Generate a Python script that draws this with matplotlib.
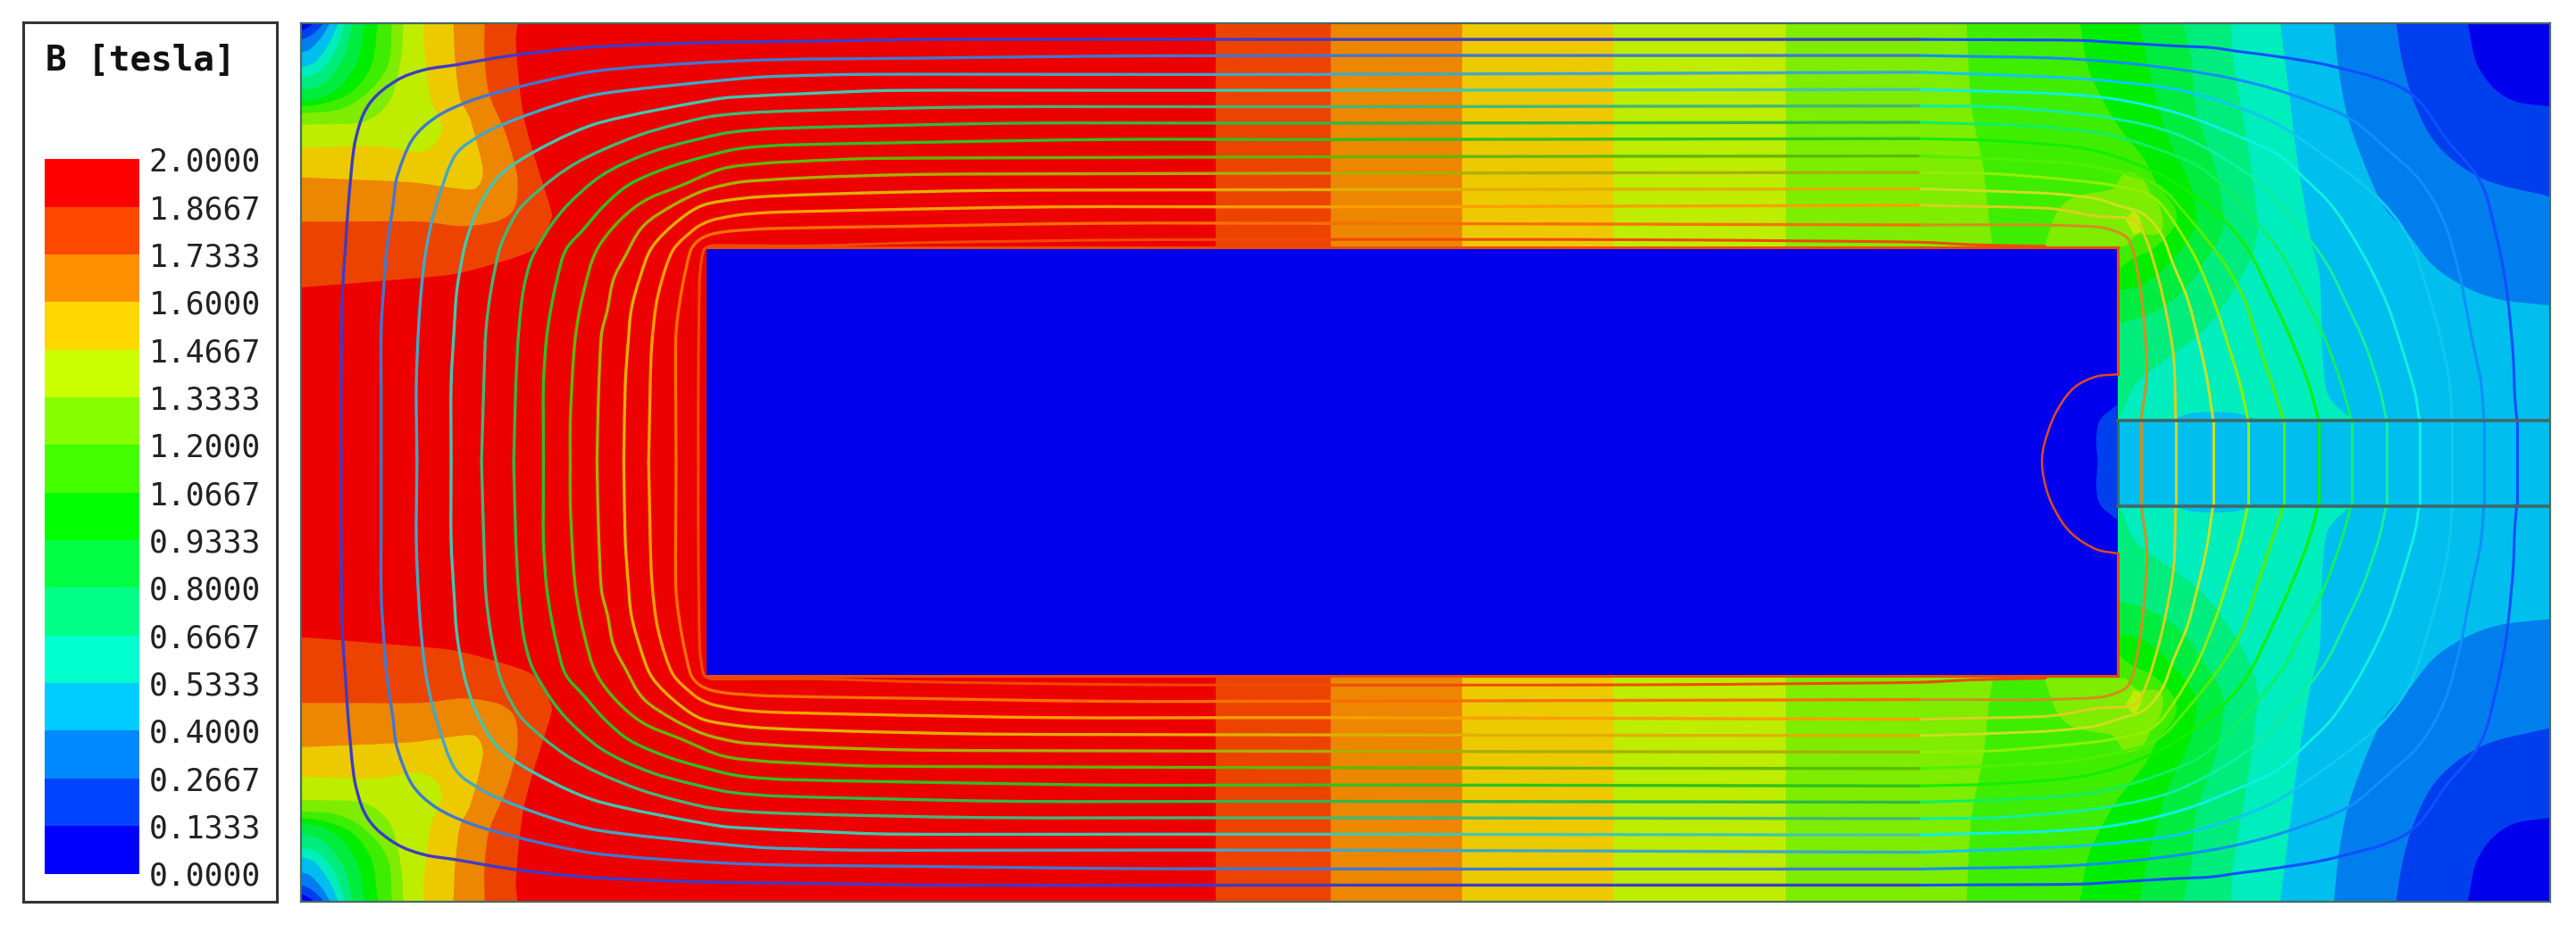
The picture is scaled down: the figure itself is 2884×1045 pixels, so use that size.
import numpy as np
import matplotlib
matplotlib.use("Agg")
import matplotlib.pyplot as plt
from matplotlib.path import Path
from matplotlib.patches import PathPatch

# all outlines are in the pixel grid of the 1568x568 view of the plot
levels = [0.0, 0.1333, 0.2667, 0.4, 0.5333, 0.6667, 0.8, 0.9333, 1.0667, 1.2, 1.3333, 1.4667, 1.6, 1.7333, 1.8667, 2.0]
band_colors = ["#0000ff", "#0044ff", "#0088ff", "#00ccff", "#00ffcc", "#00ff88", "#00ff44", "#00ff00",
               "#44ff00", "#88ff00", "#ccff00", "#ffd800", "#ff9000", "#ff4800", "#ff0000"]

# iso-B outlines in the upper left corner, highest level first
left_1867 = [(315, 14), (314, 25), (319, 72), (336, 130), (335, 135), (324.5, 152), (285, 165), (272, 167.6), (221, 172), (183, 175)]
left_1733 = [(295, 14), (295, 36), (298, 58), (308, 82), (315, 109), (313, 127), (304.5, 134), (283, 137.7), (257, 135), (183, 135)]
left_1600 = [(276, 14), (277, 36), (280, 60), (286, 72), (294, 105), (289, 115), (250, 111), (183, 108)]
left_1467 = [(258, 14), (258, 24), (262, 60), (269, 80), (258, 92), (228, 89), (183, 90)]
left_1333 = [(245.6, 14), (244, 36), (237, 62), (222, 74), (183, 76)]
left_1200 = [(238.6, 14), (236, 40), (222, 58), (205, 67), (183, 69)]
left_1067 = [(230, 14), (226, 40), (214, 56), (197, 63), (183, 65)]
left_0933 = [(222, 14), (218, 36), (207, 52.6), (194, 60), (183, 61.6)]
left_0800 = [(215, 14), (209.5, 34), (200, 48), (191.5, 53.5), (183, 54.4)]
left_0667 = [(210, 14), (204, 31), (194, 43.5), (183, 47.5)]
left_0533 = [(206, 14), (200, 27), (191.5, 38), (183, 41.3)]
left_0400 = [(201, 14), (195.6, 22.7), (188.7, 30), (183, 32)]
left_0267 = [(197.6, 14), (190, 21), (183, 24.5)]
left_0133 = [(191.5, 14), (187, 17), (183, 19)]
left_bands = [left_1867, left_1733, left_1600, left_1467, left_1333, left_1200, left_1067, left_0933,
              left_0800, left_0667, left_0533, left_0400, left_0267, left_0133]

# iso-B outlines from the top edge down the right hand side
right_1867 = [(740, 14), (740, 150)]
right_1733 = [(810, 14), (810, 150)]
right_1600 = [(890, 14), (890, 150)]
right_1467 = [(982, 14), (982, 150)]
right_1333 = [(1087, 14), (1087, 150)]
right_1200 = [(1197, 14), (1200, 65), (1207, 101), (1211, 137), (1213, 150)]
right_1067 = [(1266, 14), (1271, 41), (1281, 63), (1291, 79), (1306, 98), (1313, 112), (1325, 132), (1312, 150.5),
              (1297.8, 157.7), (1288.7, 165)]
right_0933 = [(1302, 14), (1309, 46), (1319, 82), (1332, 108.8), (1336.7, 127), (1335.8, 139.6), (1321.3, 159.5),
              (1303.2, 174), (1288.7, 176.8)]
right_0800 = [(1329, 14), (1334, 37), (1337, 68), (1350.3, 108.8), (1353, 139.6), (1343, 157.7), (1328.6, 177.7),
              (1310.5, 190.4), (1288.7, 197.6)]
right_0667 = [(1358, 14), (1360, 41), (1367.5, 84), (1371.2, 108.8), (1374, 143.2), (1366.6, 165), (1350.3, 190.4),
              (1337.6, 204.8), (1317.7, 219.4), (1299.6, 234), (1292.3, 250), (1289, 256)]
right_0533 = [(1388, 14), (1392, 46), (1399, 101), (1406.5, 145), (1412, 168.6), (1413.8, 217.6), (1417.4, 241), (1430, 253.8),
              (1434, 256)]
right_0400 = [(1420.6, 14), (1423.5, 42), (1429.4, 72.5), (1442.8, 108.8), (1451.8, 127), (1466.3, 143.2), (1480.8, 161.4),
              (1499, 174), (1520.7, 182.2), (1552, 186)]
right_0267 = [(1458.5, 14), (1462.4, 38), (1470, 63.5), (1484, 88.8), (1511, 108.8), (1552, 119.7)]
right_0133 = [(1502, 14), (1509, 41.7), (1526.5, 59.8), (1552, 65)]
right_bands = [right_1867, right_1733, right_1600, right_1467, right_1333, right_1200, right_1067, right_0933,
               right_0800, right_0667, right_0533, right_0400, right_0267, right_0133]

# higher field spots at the pole corner, and the low spot above the gap
bump_1200 = [(1244, 150), (1257, 123.3), (1286, 115), (1294, 105), (1304, 108.8), (1310, 119.7), (1315, 127),
             (1315, 141.4), (1301, 143), (1294, 150)]
bump_1333 = [(1294, 134), (1299, 128.7), (1304, 139.6), (1299, 143)]
cap_0533 = [(1320, 256), (1335, 251.5), (1360, 251.5), (1376, 256)]

magnet_x = [430, 1289, 1289, 430]
magnet_y = [150, 150, 412, 412]
gap_y = [256, 308]
tab_outline = [(1288.6, 246.5), (1278.4, 255.6), (1276, 266.5), (1277, 283), (1278.4, 306.4), (1288.6, 315.4)]
arc_outline = [(1288.6, 228), (1276, 229.3), (1263, 235.7), (1253, 248.4), (1246.6, 263), (1243, 279), (1245, 295.5),
               (1250.5, 310), (1260.6, 324.5), (1276, 334.5), (1288.6, 337)]

# flux lines, upper half, outermost first, from the left centre round to the gap centre
flux_1 = [(207.6, 281.5), (207.6, 234), (208, 201), (208.5, 176), (210.3, 150.4), (212, 125), (216.4, 85), (224.7, 63.4),
          (241.4, 49), (258, 42.6), (277.5, 39.5), (313.5, 33.5), (360.7, 28.6), (435, 25.8), (500, 25), (560, 24), (800, 24),
          (1169, 24), (1266, 24.6), (1295, 26.3), (1324.5, 28), (1346, 29), (1363, 31.4), (1386.7, 34.5), (1421.6, 40.8),
          (1466, 56), (1490, 86), (1509.8, 110.6), (1519, 141.4), (1524.3, 166.8), (1527, 186.7), (1529.8, 217.6),
          (1530.7, 241), (1532, 256), (1532, 281.5)]
flux_2 = [(232, 281.5), (232, 234), (232, 201), (233.5, 176), (235.6, 150.4), (239.3, 125), (241.4, 108.8), (251, 85),
          (265, 71.6), (285.8, 61.6), (313.5, 53.5), (360.7, 43.5), (451, 37), (560, 35.4), (700, 34), (1000, 33.8),
          (1169, 33.8), (1250.7, 35.4), (1289.5, 38), (1328.4, 42.6), (1359.5, 48), (1390.5, 56.2), (1429.4, 71.6), (1452, 90),
          (1473.6, 110.6), (1488, 136), (1496, 163), (1499, 175.9), (1504.4, 204.9), (1510, 232), (1512, 256), (1512, 281.5)]
flux_3 = [(253.8, 281.5), (253.4, 234), (254.7, 201), (256.5, 176), (259.6, 150.4), (265.6, 125), (277.5, 94), (294, 81.6),
          (319, 70.7), (360.7, 58), (443, 48.6), (465, 46.8), (520, 45.3), (800, 45.3), (1169, 44), (1250.7, 47), (1289.5, 49.9),
          (1328.4, 55.3), (1367, 67), (1390.5, 78), (1433.7, 108.8), (1451.8, 125), (1467.2, 146.9), (1477.2, 175.9),
          (1485.4, 204.9), (1490.8, 232), (1492.6, 256), (1492.6, 281.5)]
flux_4 = [(274.6, 281.5), (274.6, 234), (276.4, 201), (278.2, 176), (282.8, 150.4), (287.3, 136), (292, 125), (302.4, 108.8),
          (319, 96), (360.7, 76), (438, 60), (458, 58.5), (490, 57), (540, 55.1), (800, 55), (1169, 54.5), (1250.7, 57),
          (1289.5, 60.7), (1328.4, 69.8), (1359.5, 81.6), (1386.7, 94.3), (1403, 108.8), (1419.2, 125), (1433.7, 146.9),
          (1444.6, 166.8), (1453.6, 186.7), (1462.7, 214), (1470, 239.3), (1472.7, 256), (1472.7, 281.5)]
flux_5 = [(293.1, 281.5), (294.5, 234), (295.8, 201), (299, 176), (304.5, 150.4), (310.9, 136), (318.1, 125), (347, 101.5),
          (388.5, 82.5), (429, 71.6), (442, 69.8), (460, 68.4), (500, 67), (600, 65.1), (800, 65), (1169, 64.5), (1220, 65.4),
          (1283.5, 71.7), (1327, 82.6), (1372, 108.8), (1397.5, 136), (1415.6, 159.5), (1428.3, 184.9), (1439.1, 208.5),
          (1448.2, 235.7), (1452.7, 256), (1452.7, 281.5)]
flux_6 = [(312.7, 281.5), (314, 234), (315.8, 201), (318.7, 176), (323.6, 157.6), (331.7, 143), (336.3, 136), (345.3, 125),
          (366, 107), (397, 92.4), (438.6, 81.6), (451, 79.8), (471, 78.3), (530, 76.7), (620, 75), (800, 75), (1169, 74.5),
          (1240, 77), (1286, 82.6), (1334, 99), (1350.3, 110.6), (1373.9, 136), (1388.4, 154.1), (1401, 177.7), (1413.8, 203),
          (1424.6, 232), (1431.4, 256), (1431.4, 281.5)]
flux_7 = [(330.8, 281.5), (330.8, 234), (332.6, 206.6), (335.3, 188.4), (339, 170.3), (344.4, 152.2), (355.3, 139.5), (368, 125),
          (383, 112.4), (408, 101.5), (444, 91.6), (457, 89.7), (478, 88.3), (570, 86.5), (680, 84.9), (800, 85), (1169, 84.4),
          (1220, 86), (1276, 92), (1319.5, 108.8), (1352, 132.4), (1368.5, 152.3), (1383, 181.3), (1393.8, 204.9), (1404.7, 232),
          (1411.4, 256), (1411.4, 281.5)]
flux_8 = [(347.1, 281.5), (347.1, 257), (349, 219), (350.8, 201), (355.3, 177.6), (364.3, 150.4), (388, 125), (416, 112.4),
          (439.5, 102.8), (462, 99.7), (489, 98.1), (530, 96.5), (800, 95.5), (1169, 95), (1220, 97), (1271, 101), (1312.3, 112.4),
          (1332.2, 132.4), (1352.1, 157.7), (1365.7, 181.3), (1375.7, 212), (1384.8, 239.3), (1390.2, 256), (1390.2, 281.5)]
flux_9 = [(363.4, 281.5), (364.3, 241), (366.2, 203), (369.8, 188.4), (373.4, 170.3), (380.7, 155.8), (391.5, 137.7), (409.7, 125),
          (424, 117.8), (433, 114.6), (449.5, 111), (465, 109.7), (496, 108), (560, 106.2), (800, 105.5), (1169, 105), (1217, 106),
          (1281, 112), (1306.8, 117.9), (1316, 125), (1335.8, 155.9), (1349.4, 188.6), (1355.8, 208.5), (1363, 232), (1368.5, 256),
          (1368.5, 281.5)]
flux_10 = [(379.7, 281.5), (380.6, 234), (382.5, 206.6), (384.3, 188.4), (389.7, 168.5), (397, 150.4), (413.3, 134), (427.8, 125),
           (451, 120.9), (468, 119.5), (515, 117.8), (600, 116), (800, 115.5), (1169, 115), (1202, 116), (1250, 118), (1276, 121),
           (1288.7, 125), (1305, 130.6), (1315.9, 143.2), (1323, 161.4), (1331.3, 181.3), (1336.7, 201.2), (1343, 228.4),
           (1347.2, 256), (1347.2, 281.5)]
flux_11 = [(394.8, 281.5), (396.6, 212), (400.6, 179.4), (409.7, 152.2), (420.5, 141.3), (425, 137.8), (433, 134.2), (449, 131),
           (468, 129.4), (533, 127.8), (640, 126), (800, 126), (1169, 125), (1248, 127), (1276, 131.6), (1299.6, 134.2),
           (1306.8, 146.9), (1314, 170.4), (1318.6, 190.4), (1323.1, 217.6), (1324.4, 256), (1324.4, 281.5)]
flux_12 = [(411.5, 281.5), (411.5, 203), (415.1, 175.8), (420.5, 152.2), (425, 146.5), (432, 143), (442, 141), (468, 139.2),
           (551, 137.8), (670, 136), (800, 136), (1169, 137), (1245, 137), (1281, 138.8), (1294.1, 144.1), (1297.8, 150.5),
           (1302.3, 172.2), (1305, 195.8), (1306.8, 226.6), (1303.2, 256), (1303.2, 281.5)]
flux_13 = [(425, 281.5), (425, 237), (426, 167), (428.5, 152), (433, 149.6), (495, 149.6), (560, 147.8), (700, 146), (1000, 146),
           (1169, 147.5), (1200, 149), (1245, 150)]
flux_lines = [flux_1, flux_2, flux_3, flux_4, flux_5, flux_6, flux_7, flux_8, flux_9, flux_10, flux_11, flux_12]
# the same line reads differently over the red yoke and over the cooler right side
flux_left_colors = ["#3c3cc8", "#4078d0", "#40a8c8", "#40c8b0", "#40b878", "#30b848", "#30c020", "#60b800",
                    "#a8b000", "#e0b000", "#f8a000", "#f87000"]
flux_right_colors = ["#1050ff", "#1090f8", "#10c8f0", "#10f0e0", "#10f0a0", "#10f060", "#10f000", "#50f000",
                     "#90f000", "#c8e020", "#d8d020", "#d09020"]

def mirror(pts):
    return [(x, 563 - y) for x, y in pts]

def dim(color):
    # the field plot is a little darker than the legend
    return tuple(0.93 * np.array(matplotlib.colors.to_rgb(color)))

def curve_through(pts):
    # cubic segments through the read points, handles kept short next to short segments
    p = np.array(pts, dtype=float)
    seg = np.diff(p, axis=0)
    seglen = np.hypot(seg[:, 0], seg[:, 1])
    unit = seg / seglen[:, None]
    tang = np.vstack([unit[0], unit[:-1] + unit[1:], unit[-1]])
    tang = tang / np.maximum(np.hypot(tang[:, 0], tang[:, 1]), 1e-9)[:, None]
    hand = np.r_[seglen[0], np.minimum(seglen[:-1], seglen[1:]), seglen[-1]] * 0.36
    verts = [p[0]]
    for i in range(len(seg)):
        verts += [p[i] + tang[i] * hand[i], p[i + 1] - tang[i + 1] * hand[i + 1], p[i + 1]]
    codes = [Path.MOVETO] + [Path.CURVE4] * (len(verts) - 1)
    return verts, codes

def fill_region(ax, pts, tail, color):
    # smooth outline, then straight closing edges
    for flip in (False, True):
        verts, codes = curve_through(mirror(pts) if flip else pts)
        for t in (mirror(tail) if flip else tail):
            verts.append(t)
            codes.append(Path.LINETO)
        ax.add_patch(PathPatch(Path(verts, codes), fc=color, ec="none", lw=0))

def draw_curve(ax, pts, color, lw):
    verts, codes = curve_through(pts)
    ax.add_patch(PathPatch(Path(verts, codes), fc="none", ec=color, lw=lw, capstyle="round"))

W, H = 2884, 1045
scale = W / 1568
fig = plt.figure(figsize=(W / 100, H / 100), dpi=100)

def add_axes_px(x0, y0, x1, y1):
    return fig.add_axes([x0 * scale / W, 1 - y1 * scale / H, (x1 - x0) * scale / W, (y1 - y0) * scale / H])

# legend box
box = add_axes_px(14.4, 13.5, 168.4, 549)
box.set_xticks([])
box.set_yticks([])
for s in box.spines.values():
    s.set_color("#333333")
    s.set_linewidth(2.2)
box.text(0.088, 0.9565, "B [tesla]", transform=box.transAxes, family="DejaVu Sans Mono", weight="bold",
         fontsize=28.3, color="#111111", va="center", ha="left")

# colour scale
bar = add_axes_px(27, 97, 84.6, 532)
bar.bar(0, np.diff(levels), bottom=levels[:-1], width=1, color=band_colors)
bar.set_xlim(-0.5, 0.5)
bar.set_ylim(0, 2)
bar.set_xticks([])
bar.set_yticks(levels)
bar.set_yticklabels(["%.4f" % v for v in levels], family="DejaVu Sans Mono", fontsize=25, color="#222222")
bar.yaxis.tick_right()
bar.tick_params(axis="y", length=0, pad=8)
for s in bar.spines.values():
    s.set_visible(False)

# field plot
ax = add_axes_px(183, 14, 1552, 549)
ax.set_xlim(183, 1552)
ax.set_ylim(549, 14)
ax.set_xticks([])
ax.set_yticks([])
ax.set_facecolor(dim(band_colors[14]))
for s in ax.spines.values():
    s.set_color("#4a6a60")
    s.set_linewidth(1.6)
    s.set_zorder(10)

for i in range(len(left_bands)):
    c = dim(band_colors[13 - i])
    fill_region(ax, left_bands[i], [(183, 14)], c)
    rb = right_bands[i]
    fill_region(ax, rb, [(rb[-1][0], 281.5), (1552, 281.5), (1552, 14)], c)
    if rb is right_1200:
        fill_region(ax, bump_1200, [], dim(band_colors[9]))
        fill_region(ax, bump_1333, [], dim(band_colors[10]))
fill_region(ax, cap_0533, [], dim(band_colors[3]))

# air gap and iron
ax.fill([1289, 1552, 1552, 1289], [gap_y[0], gap_y[0], gap_y[1], gap_y[1]], color=dim(band_colors[3]), lw=0)
ax.fill(magnet_x, magnet_y, color=dim(band_colors[0]), lw=0)
fill_region(ax, tab_outline, [], dim(band_colors[1]))

# the lines bend at the gap edges, so the gap part stays straight
for pts, cl, cr in zip(flux_lines, flux_left_colors, flux_right_colors):
    k = [p[0] for p in pts].index(1169)
    for part in (pts[:k + 1], mirror(pts[:k + 1])):
        draw_curve(ax, part, cl, 2.4)
    for part in (pts[k:-1], mirror(pts[k:-1])):
        draw_curve(ax, part, cr, 2.2)
    ax.plot([pts[-2][0], pts[-1][0]], gap_y, color=cr, lw=2.2)

# line hugging the iron
edge_c = "#f04a00"
draw_curve(ax, flux_13, edge_c, 2.2)
draw_curve(ax, mirror(flux_13), edge_c, 2.2)
ax.plot([430, 1289, 1289], [150.5, 150.5, 228], color=edge_c, lw=2.2, solid_joinstyle="miter")
ax.plot([430, 1289, 1289], [411.5, 411.5, 337], color=edge_c, lw=2.2, solid_joinstyle="miter")
draw_curve(ax, arc_outline, "#e04a20", 1.8)

for gy in gap_y:
    ax.plot([1289, 1552], [gy, gy], color="#3f6a68", lw=2.6)
ax.plot([1289, 1289], gap_y, color="#3f6a68", lw=2.0)

fig.savefig("out.png", dpi=100)
